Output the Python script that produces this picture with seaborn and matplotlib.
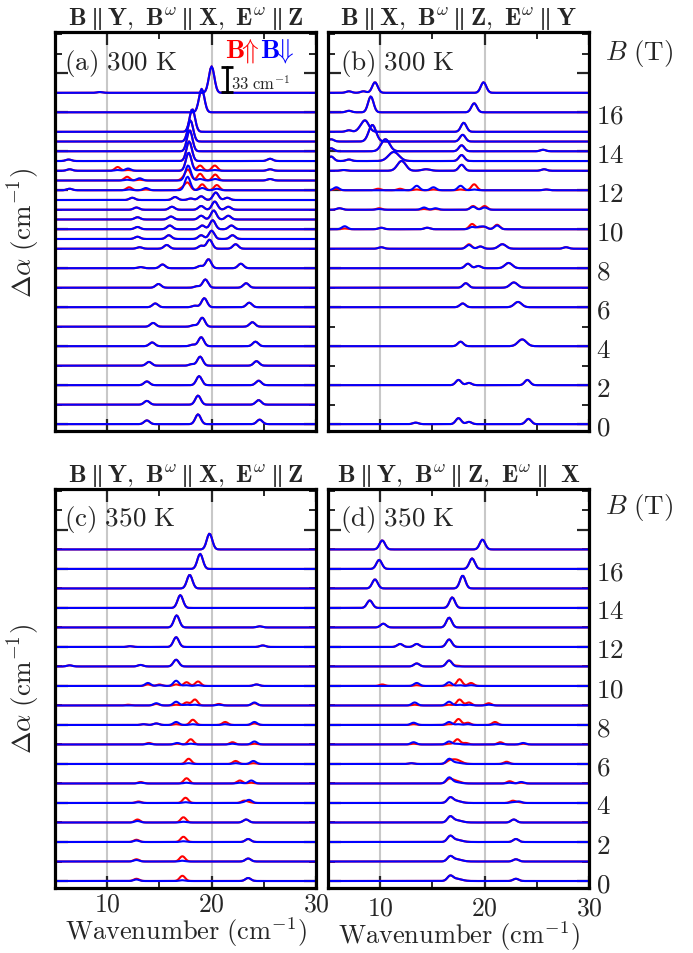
import numpy as np
import pandas as pd
import matplotlib
matplotlib.use("Agg")
import matplotlib.pyplot as plt
import seaborn as sns
from matplotlib.ticker import MultipleLocator, FuncFormatter, FixedLocator

sns.set_theme(style="ticks")
plt.rcParams["mathtext.fontset"] = "cm"
plt.rcParams["font.family"] = ["DejaVu Serif"]

# ---------------- data ----------------
# Each peak: (position cm^-1, amplitude B-up cm^-1, amplitude B-down cm^-1[, width])
fields_a = [0, 1, 2, 3, 4, 5, 6, 7, 8, 9, 9.5, 10, 10.5, 11, 11.5, 12, 12.5, 13, 13.5, 14, 14.5, 15, 16, 17]
peaks_a = [
    [(13.8, 5, 5), (18.7, 13, 13), (24.6, 6, 6)],
    [(13.8, 5, 5), (18.7, 12, 12), (24.5, 6, 6)],
    [(13.8, 5, 5), (18.8, 12, 12), (24.5, 6, 6)],
    [(14.0, 5, 5), (18.1, 2, 2), (18.9, 12, 12), (24.3, 6, 6)],
    [(14.3, 5, 5), (18.2, 2, 2), (19.0, 12, 12), (24.2, 6, 6)],
    [(14.4, 5, 5), (18.3, 2, 2), (19.1, 12, 12), (23.9, 6, 6)],
    [(14.6, 5, 5), (18.4, 2, 2), (19.3, 12, 12), (23.6, 6, 6)],
    [(14.9, 5, 5), (18.6, 2, 2), (19.4, 11, 11), (23.3, 6, 6)],
    [(13.2, 1.5, 1.5), (15.3, 5, 5), (18.9, 3, 3), (19.7, 12, 12), (22.8, 6, 6)],
    [(13.1, 2, 2), (15.7, 5, 5), (19.0, 4, 4), (19.8, 12, 12), (22.3, 6, 6)],
    [(12.9, 3, 3), (15.9, 5, 5), (19.0, 5, 5), (20.0, 11, 11), (22.0, 5, 5)],
    [(12.9, 3, 3), (16.0, 5, 5), (19.1, 5, 5), (20.1, 12, 12), (21.9, 5, 5)],
    [(12.9, 3, 3), (16.1, 4, 4), (19.0, 5, 5), (20.2, 12, 12), (21.6, 5, 5)],
    [(12.8, 3, 3), (16.2, 4, 4), (19.0, 5, 5), (20.3, 11, 11), (21.6, 4, 4)],
    [(12.4, 3, 3), (16.5, 4, 4), (18.0, 2, 2), (19.0, 5, 5), (20.4, 10, 10), (21.5, 3, 3)],
    [(6.4, 2, 2), (12.1, 4, 1), (13.7, 1, 3), (17.2, 3, 0), (17.7, 10, 18), (19.1, 8, 3), (20.5, 7, 2)],
    [(11.9, 5, 1), (13.1, 1, 3), (17.3, 3, 0), (17.75, 14, 20), (18.9, 9, 2), (20.35, 8, 2), (25.6, 2, 2)],
    [(6.4, 2, 2), (11.0, 5, 1), (12.0, 1, 3), (17.8, 24, 24), (18.9, 7, 1), (20.3, 7, 1), (25.6, 2, 2)],
    [(6.3, 2, 2), (17.85, 26, 26), (25.6, 3, 3)],
    [(17.9, 28, 28)],
    [(17.97, 28, 28)],
    [(18.15, 30, 30)],
    [(19.05, 31, 31)],
    [(9.3, 1, 1), (20.0, 35, 35)],
]

fields_b = [0, 2, 4, 6, 7, 8, 9, 10, 11, 12, 13, 13.5, 14, 14.5, 15, 16, 17]
peaks_b = [
    [(13.4, 2, 2), (17.5, 8, 8), (18.5, 3, 3), (24.2, 7, 7)],
    [(17.5, 7, 7), (18.5, 3, 3), (24.1, 7, 7)],
    [(17.7, 6, 6), (23.6, 9, 9, 0.4)],
    [(17.9, 5, 5), (23.2, 7, 7, 0.35)],
    [(18.2, 6, 6), (22.8, 7, 7, 0.35)],
    [(18.4, 6, 6), (19.4, 3, 3), (22.3, 7, 7, 0.35)],
    [(10.1, 2, 2), (18.5, 6, 5), (19.6, 3, 3), (21.7, 6, 6, 0.35), (27.8, 2, 2)],
    [(6.6, 1, 4), (10.1, 2, 2), (14.5, 2, 2), (18.8, 7, 3), (19.5, 2, 3), (20.0, 3, 3), (21.2, 6, 5)],
    [(6.1, 2, 2), (9.9, 2, 1), (14.2, 1, 3), (15.3, 1, 2), (18.9, 5, 4), (20.0, 5, 3)],
    [(5.8, 2, 4), (9.8, 2, 0), (11.9, 2, 0), (13.5, 1, 6), (15.1, 1, 4), (17.7, 1, 6), (19.0, 8, 1), (25.9, 1, 1)],
    [(6.5, 1, 1), (12.05, 13, 13, 0.4), (14.4, 2, 2, 0.4), (17.8, 8, 8), (25.7, 2, 2)],
    [(5.3, 6, 6), (7.0, 2, 2), (11.3, 12, 12, 0.5), (17.8, 8, 8)],
    [(5.3, 4, 4), (10.5, 16, 16, 0.4), (17.8, 8, 8), (25.6, 2, 2)],
    [(5.3, 3, 3), (9.25, 22, 22, 0.35), (17.9, 9, 9)],
    [(7.0, 2, 2), (8.0, 2, 2), (8.55, 15, 15, 0.35), (18.0, 12, 12)],
    [(7.0, 2, 2), (9.1, 21, 21), (19.0, 12, 12)],
    [(7.0, 2, 2), (8.4, 2, 2), (9.5, 14, 14), (19.9, 14, 14)],
]

fields_c = list(range(18))
peaks_c = [
    [(12.8, 3, 2), (17.2, 7, 1), (23.5, 4, 4)],
    [(12.8, 3, 2), (17.2, 7, 1), (23.5, 4, 4)],
    [(12.8, 3, 2), (17.3, 7, 1), (23.5, 4, 4)],
    [(12.9, 4, 2), (17.3, 7, 1), (23.3, 4, 4)],
    [(13.0, 2, 1), (17.5, 7, 1), (23.1, 3, 1), (23.6, 1, 4)],
    [(13.2, 2, 1), (17.6, 7, 1), (22.7, 4, 1), (23.8, 1, 4)],
    [(17.8, 7, 1), (22.3, 4, 1), (24.0, 1, 4)],
    [(14.0, 2, 1), (16.7, 1, 2), (18.0, 7, 1), (22.0, 3, 1), (24.1, 1, 4)],
    [(13.5, 1, 1), (14.7, 2, 2), (16.6, 1, 4), (18.2, 7, 1), (21.3, 4, 1), (24.1, 2, 4)],
    [(12.0, 1, 0), (14.7, 2, 3), (16.6, 1, 5), (17.6, 4, 1), (18.4, 8, 1), (20.7, 2, 1), (24.1, 3, 4)],
    [(13.9, 2, 4), (15.0, 2, 1), (16.6, 2, 7), (17.6, 5, 1), (18.7, 6, 1), (24.3, 2, 2)],
    [(6.4, 1.5, 1.5), (13.2, 2, 2), (16.6, 9, 9)],
    [(12.2, 1, 1), (16.6, 13, 13), (24.9, 2, 2)],
    [(16.65, 16, 16), (24.6, 1.5, 1.5)],
    [(17.0, 17, 17)],
    [(17.9, 18, 18)],
    [(18.9, 20, 20)],
    [(19.8, 21, 21)],
]

fields_d = list(range(18))
peaks_d = [
    [(16.7, 6, 6), (17.3, 3, 3, 0.5), (23.0, 3, 3)],
    [(16.7, 6, 6), (17.3, 3, 3, 0.5), (23.0, 3, 3)],
    [(16.7, 7, 7), (17.3, 3, 3, 0.5), (23.0, 4, 4)],
    [(16.7, 7, 7), (17.3, 3, 3, 0.5), (22.8, 4, 4)],
    [(16.7, 6, 6), (17.2, 3, 3, 0.5), (22.7, 3, 1), (23.3, 1, 2)],
    [(16.6, 4, 7), (17.1, 4, 2, 0.5), (22.4, 3, 1), (23.5, 1, 2)],
    [(13.0, 1, 1), (16.6, 2, 6), (17.2, 6, 2, 0.5), (22.1, 3, 1)],
    [(13.2, 1, 3), (16.6, 1, 4), (17.4, 7, 1), (18.2, 2, 0), (21.5, 3, 1), (23.7, 1, 2)],
    [(13.2, 1, 3), (16.6, 1, 4), (17.5, 8, 1), (18.4, 3, 1), (21.0, 4, 1)],
    [(13.3, 1, 4), (16.6, 1, 5), (17.6, 8, 1), (18.5, 4, 1), (20.4, 3, 1)],
    [(10.2, 2, 0), (13.5, 1, 4), (16.6, 1, 5), (17.6, 9, 1), (18.7, 4, 1)],
    [(13.5, 4, 4), (16.6, 8, 8), (17.4, 1, 0)],
    [(11.9, 4, 4), (13.5, 4, 4), (16.6, 10, 10)],
    [(10.3, 5, 5), (16.6, 13, 13)],
    [(9.0, 10, 10), (16.9, 14, 14)],
    [(9.5, 12, 12), (17.9, 17, 17)],
    [(9.9, 12, 12), (18.8, 14, 14)],
    [(10.2, 12, 12), (19.8, 13, 13)],
]

titles = [
    r"$\mathbf{B}\parallel\mathbf{Y},\ \mathbf{B}^{\omega}\parallel\mathbf{X},\ \mathbf{E}^{\omega}\parallel\mathbf{Z}$",
    r"$\mathbf{B}\parallel\mathbf{X},\ \mathbf{B}^{\omega}\parallel\mathbf{Z},\ \mathbf{E}^{\omega}\parallel\mathbf{Y}$",
    r"$\mathbf{B}\parallel\mathbf{Y},\ \mathbf{B}^{\omega}\parallel\mathbf{X},\ \mathbf{E}^{\omega}\parallel\mathbf{Z}$",
    r"$\mathbf{B}\parallel\mathbf{Y},\ \mathbf{B}^{\omega}\parallel\mathbf{Z},\ \mathbf{E}^{\omega}\parallel\ \mathbf{X}$",
]
panel_labels = [r"$\mathrm{(a)\ 300\ K}$", r"$\mathrm{(b)\ 300\ K}$",
                r"$\mathrm{(c)\ 350\ K}$", r"$\mathrm{(d)\ 350\ K}$"]
x_ticks_major = [10, 20, 30]
y_ticks_major = [0, 2, 4, 6, 8, 10, 12, 14, 16, 18]
scale_bar_value = 33  # cm^-1

SCALE = 1.28 / 33.0   # offset units (T) per cm^-1 of Delta alpha
wn = np.arange(5.0, 30.001, 0.12)


def spectrum(peaks, which):
    y = np.zeros_like(wn)
    for pk in peaks:
        pos = pk[0]
        amp = pk[1] if which == "up" else pk[2]
        w = pk[3] if len(pk) > 3 else 0.26
        y += amp * np.exp(-0.5 * ((wn - pos) / w) ** 2)
    return y


def build_df(fields, peaks):
    rows = []
    for B, pk in zip(fields, peaks):
        for d in ("up", "down"):
            rows.append(pd.DataFrame({"wn": wn, "y": B + SCALE * spectrum(pk, d),
                                      "B": B, "dir": d}))
    return pd.concat(rows, ignore_index=True)


# ---------------- figure ----------------
fig = plt.figure(figsize=(6.93, 9.54), dpi=100)
W = 0.3766
rects = [[0.0794, 0.547, W, 0.418], [0.4733, 0.547, W, 0.418],
         [0.0794, 0.0681, W, 0.4183], [0.4733, 0.0681, W, 0.4183]]
all_fields = [fields_a, fields_b, fields_c, fields_d]
all_peaks = [peaks_a, peaks_b, peaks_c, peaks_d]
label_y = [0.925, 0.925, 0.925, 0.925]
btext_y = [0.95, 0.95, 0.955, 0.955]
axes = []
FS = 19.5
FT = 18
for i in range(4):
    ax = fig.add_axes(rects[i])
    axes.append(ax)
    df = build_df(all_fields[i], all_peaks[i])
    ax.axvline(10, color="#c8c8c8", lw=1.5, zorder=0)
    ax.axvline(20, color="#c8c8c8", lw=1.5, zorder=0)
    sns.lineplot(data=df, x="wn", y="y", hue="dir", units="B", estimator=None,
                 hue_order=["up", "down"], palette={"up": "#ff0000", "down": "#0000ff"},
                 sort=False, legend=False, lw=1.5, ax=ax)
    ax.set_xlim(5, 30)
    ax.set_ylim(-0.36, 20.1)
    ax.xaxis.set_major_locator(FixedLocator(x_ticks_major))
    ax.xaxis.set_minor_locator(MultipleLocator(5))
    ax.yaxis.set_major_locator(FixedLocator(y_ticks_major))
    ax.yaxis.set_minor_locator(MultipleLocator(1))
    ax.tick_params(which="major", direction="in", length=9, width=1.6,
                   top=True, bottom=True, left=True, right=True, labelsize=FS)
    ax.tick_params(which="minor", direction="in", length=5, width=1.4,
                   top=True, bottom=True, left=True, right=True)
    for sp in ax.spines.values():
        sp.set_linewidth(2.3)
        sp.set_color("black")
    ax.set_xlabel("")
    ax.set_ylabel("")
    ax.set_title(titles[i], fontsize=FT, pad=5)
    ax.text(0.035 if i % 2 == 0 else 0.045, label_y[i], panel_labels[i], transform=ax.transAxes,
            fontsize=FS, ha="left", va="center")
    ax.tick_params(labelleft=False)
    if i < 2:
        ax.tick_params(labelbottom=False)
    else:
        ax.set_xlabel(r"$\mathrm{Wavenumber\ (cm^{-1})}$", fontsize=19, labelpad=-1.5)
        ax.xaxis.set_major_formatter(FuncFormatter(lambda v, p: r"$\mathrm{%d}$" % v))
        ax.tick_params(axis="x", pad=2, labelsize=18.5)
    if i % 2 == 1:
        ax.tick_params(labelright=True, pad=5)
        ax.yaxis.set_major_formatter(FuncFormatter(
            lambda v, p: "" if v > 17 else r"$\mathrm{%d}$" % v))
        ax.text(1.06, btext_y[i], r"$B\ \mathrm{(T)}$", transform=ax.transAxes,
                fontsize=FS, ha="left", va="center")
    else:
        ax.set_ylabel(r"$\Delta\alpha\ \mathrm{(cm^{-1})}$", fontsize=FS)
        ax.yaxis.set_label_coords(-0.046, 0.5)

# legend text and scale bar in panel (a)
axa = axes[0]
axa.text(21.3, 19.2, r"$\mathbf{B}\!\!\Uparrow$", color="#ff0000", fontsize=FS,
         ha="left", va="center")
axa.text(24.6, 19.2, r"$\mathbf{B}\!\!\Downarrow$", color="#0000ff", fontsize=FS,
         ha="left", va="center")
y0 = 17.05
y1 = y0 + scale_bar_value * SCALE
axa.plot([21.5, 21.5], [y0, y1], color="black", lw=2)
axa.plot([21.5, 21.5], [y0, y1], ls="none", marker="_", ms=9, mew=2, color="black")
axa.text(21.85, (y0 + y1) / 2 - 0.2, r"$\mathrm{%d\ cm^{-1}}$" % scale_bar_value,
         fontsize=12, ha="left", va="center")

fig.savefig("out.png", dpi=100)
